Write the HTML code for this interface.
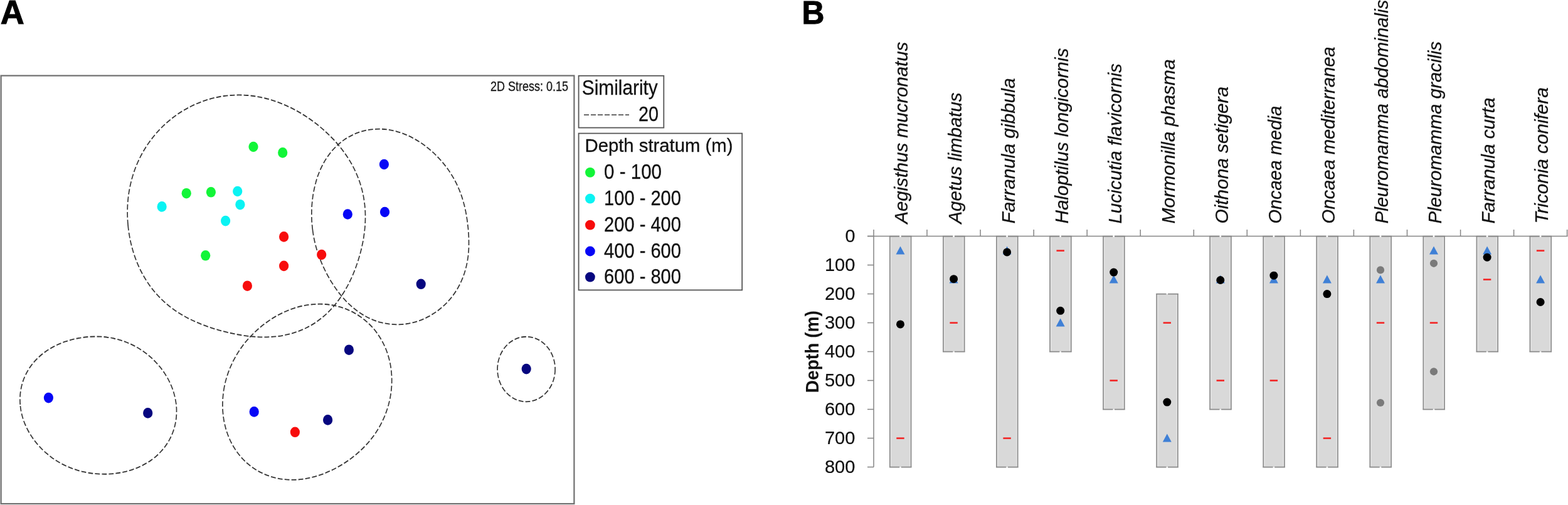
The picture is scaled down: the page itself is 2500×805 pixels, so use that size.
<!DOCTYPE html>
<html><head><meta charset="utf-8"><title>Figure</title>
<style>
html,body{margin:0;padding:0;background:#fff;}
body{width:2500px;height:805px;overflow:hidden;}
svg{display:block;}
</style></head><body>
<svg width="2500" height="805" viewBox="0 0 2500 805">
<rect x="0" y="0" width="2500" height="805" fill="#fff"/>
<text x="0.8" y="38.4" font-family="'Liberation Sans', sans-serif" font-weight="bold" font-size="53.5" fill="#000" stroke="#000" stroke-width="1" textLength="38" lengthAdjust="spacingAndGlyphs">A</text>
<text x="1278.6" y="38.0" font-family="'Liberation Sans', sans-serif" font-weight="bold" font-size="52.5" fill="#000" stroke="#000" stroke-width="1" textLength="36" lengthAdjust="spacingAndGlyphs">B</text>
<rect x="1.6" y="120.6" width="913.8" height="682.4" fill="none" stroke="#6e6e6e" stroke-width="2.2"/>
<text x="782" y="145.3" font-family="'Liberation Sans', sans-serif" font-size="22.3" fill="#1a1a1a" stroke="#1a1a1a" stroke-width="0.35" textLength="124" lengthAdjust="spacingAndGlyphs">2D Stress: 0.15</text>
<g transform="scale(1,1.120)">
<path d="M204.1,320.5 C203.6,315.6 203.2,310.6 203.2,305.6 C203.1,300.6 203.2,295.5 203.5,290.5 C203.9,285.5 204.5,280.4 205.3,275.3 C206.2,270.3 207.3,265.2 208.6,260.2 C210.0,255.2 211.6,250.2 213.4,245.3 C215.3,240.4 217.4,235.5 219.8,230.7 C222.2,225.9 224.9,221.2 227.8,216.6 C230.7,212.0 233.9,207.5 237.4,203.1 C240.8,198.7 244.5,194.5 248.4,190.4 C252.3,186.4 256.5,182.5 260.8,178.7 C265.2,175.0 269.8,171.5 274.6,168.2 C279.4,164.8 284.4,161.7 289.5,158.8 C294.7,155.9 300.0,153.3 305.5,150.9 C310.9,148.5 316.6,146.3 322.3,144.5 C328.0,142.6 333.9,141.0 339.8,139.7 C345.7,138.4 351.7,137.3 357.7,136.6 C363.8,135.9 369.8,135.4 375.9,135.3 C382.0,135.1 388.0,135.3 394.0,135.7 C400.1,136.1 406.1,136.8 412.0,137.8 C417.8,138.7 423.7,140.0 429.4,141.4 C435.1,142.9 440.8,144.6 446.3,146.5 C451.8,148.4 457.2,150.5 462.4,152.8 C467.7,155.0 472.8,157.5 477.8,160.1 C482.8,162.7 487.7,165.5 492.4,168.4 C497.1,171.3 501.7,174.3 506.2,177.5 C510.6,180.7 515.0,184.0 519.1,187.4 C523.3,190.8 527.3,194.4 531.2,198.0 C535.1,201.7 538.8,205.5 542.3,209.4 C545.9,213.3 549.2,217.3 552.4,221.5 C555.5,225.7 558.5,229.9 561.2,234.3 C563.9,238.7 566.4,243.2 568.6,247.8 C570.8,252.4 572.8,257.1 574.5,261.8 C576.2,266.6 577.6,271.4 578.8,276.3 C579.9,281.2 580.8,286.1 581.4,291.0 C582.0,295.9 582.4,300.9 582.5,305.8 C582.6,310.7 582.4,315.6 582.1,320.5 C581.7,325.4 581.1,330.2 580.3,335.0 C579.6,339.9 578.6,344.6 577.4,349.4 C576.3,354.1 575.0,358.8 573.5,363.4 C572.0,368.1 570.4,372.7 568.6,377.2 C566.8,381.8 564.9,386.3 562.8,390.7 C560.6,395.2 558.3,399.6 555.9,403.9 C553.4,408.2 550.7,412.5 547.8,416.6 C544.9,420.8 541.9,424.8 538.5,428.7 C535.2,432.6 531.7,436.5 527.9,440.0 C524.2,443.6 520.2,447.1 516.0,450.3 C511.8,453.4 507.4,456.4 502.8,459.2 C498.2,461.9 493.4,464.4 488.5,466.5 C483.6,468.7 478.5,470.7 473.3,472.3 C468.2,473.9 462.9,475.3 457.6,476.3 C452.3,477.4 446.9,478.2 441.6,478.8 C436.2,479.3 430.8,479.6 425.5,479.8 C420.2,479.9 414.9,479.7 409.6,479.5 C404.4,479.2 399.2,478.8 394.0,478.2 C388.9,477.6 383.8,476.9 378.8,476.1 C373.8,475.2 368.8,474.3 363.9,473.3 C358.9,472.3 354.1,471.1 349.2,469.9 C344.4,468.7 339.5,467.4 334.8,465.9 C330.0,464.5 325.2,463.0 320.5,461.3 C315.8,459.6 311.1,457.8 306.5,455.8 C301.9,453.9 297.3,451.8 292.9,449.5 C288.4,447.2 284.0,444.8 279.7,442.2 C275.4,439.5 271.2,436.7 267.2,433.7 C263.2,430.7 259.3,427.6 255.6,424.2 C251.9,420.9 248.3,417.4 245.0,413.7 C241.6,410.0 238.4,406.2 235.5,402.2 C232.5,398.3 229.7,394.2 227.2,390.0 C224.6,385.8 222.3,381.4 220.1,377.0 C218.0,372.6 216.0,368.1 214.3,363.5 C212.5,358.9 211.0,354.2 209.7,349.5 C208.3,344.8 207.2,340.0 206.3,335.2 C205.3,330.3 204.6,325.4 204.1,320.5Z" fill="none" stroke="#333" stroke-width="1.65" stroke-dasharray="7.8 3.2"/>
<path d="M498.5,327.6 C498.0,324.1 497.6,320.6 497.3,317.0 C497.0,313.4 496.9,309.8 496.8,306.2 C496.8,302.5 496.9,298.8 497.1,295.1 C497.3,291.4 497.7,287.6 498.2,283.8 C498.7,280.0 499.3,276.1 500.2,272.3 C501.0,268.4 502.0,264.5 503.2,260.7 C504.3,256.8 505.7,252.9 507.3,249.0 C508.9,245.2 510.7,241.3 512.8,237.5 C514.9,233.8 517.1,230.0 519.7,226.4 C522.3,222.9 525.1,219.3 528.1,216.0 C531.2,212.7 534.6,209.5 538.1,206.6 C541.7,203.7 545.5,200.9 549.5,198.5 C553.5,196.1 557.8,193.9 562.2,192.0 C566.5,190.1 571.1,188.5 575.8,187.3 C580.4,186.0 585.2,185.1 590.0,184.5 C594.8,183.9 599.7,183.6 604.5,183.6 C609.4,183.6 614.2,184.0 619.0,184.6 C623.7,185.2 628.4,186.1 633.0,187.3 C637.5,188.4 642.0,189.8 646.3,191.4 C650.6,192.9 654.8,194.8 658.8,196.7 C662.9,198.6 666.7,200.7 670.4,202.9 C674.1,205.0 677.6,207.4 681.0,209.8 C684.4,212.1 687.6,214.6 690.7,217.1 C693.7,219.6 696.6,222.2 699.4,224.9 C702.2,227.5 704.8,230.2 707.3,232.9 C709.7,235.6 712.1,238.3 714.3,241.1 C716.5,243.8 718.5,246.6 720.5,249.5 C722.4,252.3 724.2,255.1 725.9,258.0 C727.6,260.8 729.1,263.7 730.5,266.6 C732.0,269.5 733.3,272.4 734.5,275.3 C735.7,278.2 736.8,281.1 737.7,284.0 C738.7,286.9 739.6,289.8 740.4,292.7 C741.2,295.6 741.9,298.5 742.6,301.4 C743.2,304.3 743.8,307.2 744.3,310.1 C744.8,313.0 745.3,315.9 745.6,318.8 C746.0,321.7 746.4,324.6 746.7,327.6 C746.9,330.5 747.2,333.5 747.3,336.5 C747.4,339.5 747.5,342.6 747.5,345.6 C747.5,348.7 747.5,351.8 747.3,354.9 C747.1,358.1 746.8,361.2 746.4,364.4 C745.9,367.6 745.4,370.9 744.7,374.1 C744.0,377.3 743.1,380.6 742.1,383.8 C741.1,387.1 739.9,390.4 738.6,393.6 C737.2,396.8 735.7,400.1 733.9,403.2 C732.2,406.4 730.3,409.5 728.2,412.6 C726.1,415.6 723.8,418.7 721.3,421.6 C718.8,424.5 716.1,427.3 713.3,430.0 C710.5,432.7 707.4,435.3 704.2,437.8 C701.0,440.2 697.6,442.5 694.1,444.7 C690.6,446.8 686.9,448.8 683.1,450.6 C679.3,452.4 675.4,454.1 671.4,455.5 C667.3,456.8 663.2,458.1 658.9,459.0 C654.7,460.0 650.4,460.7 646.1,461.2 C641.7,461.7 637.3,461.9 633.0,461.9 C628.6,461.9 624.2,461.6 619.9,461.1 C615.6,460.6 611.3,459.8 607.1,458.9 C602.9,457.9 598.7,456.6 594.7,455.2 C590.7,453.7 586.8,452.1 583.0,450.2 C579.2,448.4 575.6,446.4 572.1,444.2 C568.6,442.0 565.2,439.7 562.1,437.3 C558.9,434.8 555.8,432.3 552.9,429.7 C550.0,427.0 547.3,424.3 544.7,421.5 C542.1,418.8 539.6,415.9 537.3,413.0 C534.9,410.2 532.7,407.3 530.6,404.3 C528.4,401.4 526.4,398.4 524.5,395.4 C522.6,392.4 520.8,389.4 519.1,386.3 C517.3,383.3 515.7,380.2 514.2,377.1 C512.6,373.9 511.2,370.8 509.8,367.6 C508.5,364.4 507.2,361.2 506.0,358.0 C504.9,354.7 503.8,351.4 502.9,348.1 C501.9,344.7 501.1,341.4 500.3,337.9 C499.6,334.5 499.0,331.1 498.5,327.6Z" fill="none" stroke="#333" stroke-width="1.65" stroke-dasharray="7.8 3.2"/>
<path d="M356.6,555.9 C357.3,552.3 358.0,548.8 358.9,545.3 C359.8,541.9 360.9,538.5 362.1,535.1 C363.3,531.8 364.6,528.5 366.0,525.3 C367.5,522.0 369.1,518.9 370.7,515.8 C372.4,512.7 374.2,509.7 376.1,506.8 C378.0,503.8 380.0,501.0 382.1,498.2 C384.2,495.4 386.5,492.7 388.7,490.0 C391.0,487.4 393.4,484.8 395.9,482.3 C398.4,479.8 400.9,477.4 403.6,475.1 C406.2,472.7 408.9,470.5 411.7,468.3 C414.5,466.1 417.4,463.9 420.4,461.9 C423.3,459.9 426.4,457.9 429.5,456.0 C432.6,454.1 435.8,452.3 439.1,450.6 C442.4,448.9 445.8,447.3 449.2,445.8 C452.7,444.3 456.2,442.9 459.8,441.6 C463.4,440.3 467.1,439.1 470.8,438.1 C474.6,437.1 478.4,436.1 482.3,435.4 C486.2,434.6 490.1,434.0 494.1,433.6 C498.1,433.2 502.1,432.9 506.2,432.8 C510.2,432.7 514.3,432.8 518.4,433.0 C522.4,433.3 526.5,433.8 530.5,434.4 C534.6,435.1 538.6,435.9 542.6,437.0 C546.5,438.0 550.4,439.3 554.2,440.7 C558.1,442.2 561.8,443.8 565.4,445.6 C569.0,447.4 572.5,449.4 575.9,451.6 C579.3,453.7 582.5,456.1 585.6,458.6 C588.6,461.0 591.6,463.7 594.3,466.4 C597.0,469.2 599.6,472.1 602.0,475.1 C604.3,478.1 606.5,481.2 608.5,484.4 C610.5,487.5 612.3,490.8 614.0,494.1 C615.6,497.4 617.0,500.8 618.2,504.2 C619.5,507.6 620.5,511.1 621.4,514.5 C622.3,518.0 623.0,521.5 623.5,524.9 C624.0,528.4 624.3,531.9 624.5,535.4 C624.7,538.8 624.7,542.3 624.6,545.7 C624.5,549.1 624.2,552.5 623.8,555.9 C623.3,559.3 622.8,562.6 622.1,565.9 C621.4,569.2 620.5,572.4 619.6,575.7 C618.6,578.9 617.5,582.0 616.3,585.1 C615.1,588.2 613.8,591.3 612.3,594.3 C610.8,597.3 609.3,600.3 607.6,603.1 C605.9,606.0 604.1,608.9 602.2,611.6 C600.3,614.4 598.3,617.1 596.2,619.7 C594.0,622.3 591.8,624.9 589.5,627.4 C587.2,629.9 584.8,632.3 582.3,634.6 C579.8,637.0 577.2,639.3 574.5,641.5 C571.9,643.7 569.1,645.9 566.3,647.9 C563.4,650.0 560.5,652.0 557.5,654.0 C554.5,655.9 551.4,657.8 548.3,659.6 C545.1,661.4 541.8,663.1 538.5,664.8 C535.1,666.5 531.7,668.0 528.2,669.5 C524.7,671.0 521.1,672.4 517.4,673.7 C513.7,675.0 509.9,676.2 506.0,677.3 C502.1,678.4 498.1,679.3 494.1,680.1 C490.1,680.9 485.9,681.5 481.7,682.0 C477.6,682.5 473.3,682.8 469.0,682.9 C464.7,682.9 460.4,682.9 456.1,682.5 C451.8,682.2 447.4,681.7 443.1,680.9 C438.9,680.1 434.6,679.1 430.4,677.9 C426.2,676.6 422.1,675.1 418.1,673.4 C414.1,671.7 410.2,669.8 406.5,667.6 C402.8,665.5 399.2,663.1 395.8,660.5 C392.4,658.0 389.1,655.2 386.1,652.3 C383.1,649.4 380.3,646.3 377.7,643.1 C375.1,639.9 372.8,636.5 370.6,633.1 C368.5,629.6 366.6,626.1 364.9,622.5 C363.2,618.9 361.8,615.2 360.5,611.5 C359.3,607.8 358.3,604.1 357.4,600.3 C356.6,596.6 356.0,592.8 355.6,589.0 C355.2,585.3 354.9,581.5 354.9,577.8 C354.8,574.1 355.0,570.4 355.3,566.7 C355.6,563.1 356.0,559.5 356.6,555.9Z" fill="none" stroke="#333" stroke-width="1.65" stroke-dasharray="7.8 3.2"/>
<path d="M32.2,575.9 C31.9,572.8 31.8,569.6 31.9,566.5 C32.0,563.4 32.3,560.2 32.8,557.1 C33.3,554.0 34.0,550.9 34.9,547.8 C35.8,544.8 36.9,541.7 38.2,538.8 C39.5,535.9 41.0,533.0 42.6,530.3 C44.3,527.5 46.2,524.8 48.2,522.2 C50.2,519.7 52.4,517.2 54.6,514.9 C56.9,512.5 59.4,510.3 61.9,508.2 C64.4,506.1 67.1,504.1 69.8,502.3 C72.6,500.4 75.4,498.7 78.3,497.1 C81.1,495.5 84.1,494.0 87.0,492.7 C90.0,491.3 93.0,490.1 96.1,489.0 C99.1,487.8 102.2,486.8 105.3,485.9 C108.4,484.9 111.5,484.1 114.6,483.4 C117.7,482.7 120.8,482.0 124.0,481.5 C127.1,480.9 130.3,480.5 133.4,480.1 C136.5,479.8 139.7,479.5 142.8,479.3 C146.0,479.1 149.2,479.0 152.3,479.0 C155.5,479.0 158.6,479.1 161.8,479.2 C164.9,479.4 168.1,479.7 171.2,480.1 C174.4,480.4 177.5,480.9 180.7,481.5 C183.8,482.1 186.9,482.8 190.0,483.6 C193.1,484.3 196.1,485.2 199.1,486.2 C202.2,487.2 205.2,488.4 208.1,489.6 C211.1,490.8 214.0,492.1 216.9,493.6 C219.8,495.0 222.6,496.5 225.4,498.2 C228.2,499.8 230.9,501.6 233.5,503.4 C236.2,505.2 238.8,507.2 241.3,509.2 C243.8,511.3 246.3,513.4 248.6,515.7 C251.0,517.9 253.3,520.3 255.5,522.7 C257.7,525.2 259.8,527.7 261.8,530.4 C263.7,533.0 265.6,535.7 267.4,538.5 C269.1,541.3 270.7,544.2 272.2,547.2 C273.7,550.2 275.0,553.3 276.2,556.4 C277.3,559.5 278.3,562.8 279.1,566.0 C279.9,569.3 280.5,572.6 281.0,575.9 C281.4,579.2 281.6,582.6 281.5,586.0 C281.5,589.4 281.3,592.8 280.8,596.1 C280.3,599.5 279.7,602.9 278.7,606.2 C277.8,609.5 276.7,612.7 275.3,615.9 C273.9,619.0 272.3,622.2 270.6,625.1 C268.8,628.1 266.8,631.0 264.6,633.8 C262.4,636.6 260.1,639.2 257.6,641.7 C255.0,644.2 252.4,646.6 249.6,648.8 C246.8,651.0 243.9,653.1 240.9,655.0 C237.9,656.9 234.7,658.6 231.6,660.2 C228.4,661.9 225.2,663.3 221.9,664.6 C218.6,665.9 215.3,667.1 211.9,668.1 C208.6,669.2 205.2,670.1 201.9,670.8 C198.5,671.6 195.2,672.2 191.8,672.8 C188.4,673.3 185.1,673.7 181.8,674.1 C178.4,674.4 175.1,674.6 171.8,674.7 C168.5,674.8 165.3,674.8 162.0,674.7 C158.7,674.7 155.5,674.5 152.3,674.2 C149.1,674.0 145.9,673.6 142.8,673.2 C139.6,672.8 136.5,672.2 133.4,671.6 C130.3,671.0 127.3,670.3 124.2,669.5 C121.2,668.7 118.2,667.8 115.3,666.8 C112.3,665.8 109.4,664.8 106.5,663.6 C103.6,662.5 100.8,661.2 98.0,659.9 C95.2,658.5 92.5,657.1 89.8,655.6 C87.2,654.1 84.5,652.5 82.0,650.8 C79.4,649.1 76.9,647.3 74.4,645.4 C72.0,643.6 69.6,641.6 67.3,639.6 C65.0,637.6 62.8,635.4 60.6,633.2 C58.5,631.0 56.4,628.7 54.4,626.4 C52.5,624.0 50.6,621.5 48.8,619.0 C47.0,616.5 45.3,613.9 43.8,611.2 C42.3,608.5 40.8,605.7 39.5,602.9 C38.2,600.1 37.1,597.2 36.1,594.2 C35.1,591.3 34.3,588.2 33.6,585.2 C33.0,582.1 32.5,579.0 32.2,575.9Z" fill="none" stroke="#333" stroke-width="1.65" stroke-dasharray="7.8 3.2"/>
<ellipse cx="839.1" cy="525.45" rx="46" ry="46.25" fill="none" stroke="#333" stroke-width="1.65" stroke-dasharray="7.8 3.2"/>
</g>
<ellipse cx="404.0" cy="234.0" rx="7.6" ry="8.3" fill="#12f538"/>
<ellipse cx="450.7" cy="243.4" rx="7.6" ry="8.3" fill="#12f538"/>
<ellipse cx="297.2" cy="308.2" rx="7.6" ry="8.3" fill="#12f538"/>
<ellipse cx="336.4" cy="306.3" rx="7.6" ry="8.3" fill="#12f538"/>
<ellipse cx="327.7" cy="407.3" rx="7.6" ry="8.3" fill="#12f538"/>
<ellipse cx="378.7" cy="305.0" rx="7.6" ry="8.3" fill="#0af3f3"/>
<ellipse cx="382.9" cy="326.2" rx="7.6" ry="8.3" fill="#0af3f3"/>
<ellipse cx="258.1" cy="329.4" rx="7.6" ry="8.3" fill="#0af3f3"/>
<ellipse cx="359.6" cy="352.1" rx="7.6" ry="8.3" fill="#0af3f3"/>
<ellipse cx="452.6" cy="377.4" rx="7.6" ry="8.3" fill="#f70c0c"/>
<ellipse cx="512.7" cy="406.0" rx="7.6" ry="8.3" fill="#f70c0c"/>
<ellipse cx="452.6" cy="423.9" rx="7.6" ry="8.3" fill="#f70c0c"/>
<ellipse cx="394.4" cy="455.7" rx="7.6" ry="8.3" fill="#f70c0c"/>
<ellipse cx="470.4" cy="688.8" rx="7.6" ry="8.3" fill="#f70c0c"/>
<ellipse cx="554.3" cy="341.5" rx="7.6" ry="8.3" fill="#0606f6"/>
<ellipse cx="612.4" cy="262.0" rx="7.6" ry="8.3" fill="#0606f6"/>
<ellipse cx="613.5" cy="338.0" rx="7.6" ry="8.3" fill="#0606f6"/>
<ellipse cx="77.4" cy="634.1" rx="7.6" ry="8.3" fill="#0606f6"/>
<ellipse cx="405.2" cy="656.4" rx="7.6" ry="8.3" fill="#0606f6"/>
<ellipse cx="671.2" cy="452.8" rx="7.6" ry="8.3" fill="#06067f"/>
<ellipse cx="556.4" cy="557.7" rx="7.6" ry="8.3" fill="#06067f"/>
<ellipse cx="839.2" cy="588.1" rx="7.6" ry="8.3" fill="#06067f"/>
<ellipse cx="235.7" cy="658.4" rx="7.6" ry="8.3" fill="#06067f"/>
<ellipse cx="522.6" cy="669.4" rx="7.6" ry="8.3" fill="#06067f"/>
<rect x="922.6" y="120.8" width="135.7" height="82.8" fill="#fff" stroke="#555" stroke-width="1.8"/>
<text x="927.8" y="150.8" font-family="'Liberation Sans', sans-serif" font-size="32.4" fill="#111" stroke="#111" stroke-width="0.3" textLength="121" lengthAdjust="spacingAndGlyphs">Similarity</text>
<line x1="931" y1="183.1" x2="1003" y2="183.1" stroke="#555" stroke-width="1.6" stroke-dasharray="8 3"/>
<text x="1018" y="192.8" font-family="'Liberation Sans', sans-serif" font-size="32.4" fill="#111" stroke="#111" stroke-width="0.3" textLength="32" lengthAdjust="spacingAndGlyphs">20</text>
<rect x="922.6" y="212.6" width="260.6" height="249.8" fill="#fff" stroke="#555" stroke-width="1.8"/>
<text x="932.5" y="241.7" font-family="'Liberation Sans', sans-serif" font-size="30.3" fill="#111" stroke="#111" stroke-width="0.3" textLength="236" lengthAdjust="spacingAndGlyphs">Depth stratum (m)</text>
<circle cx="940.9" cy="274.8" r="7.9" fill="#12f538"/>
<text x="963" y="285.0" font-family="'Liberation Sans', sans-serif" font-size="32.4" fill="#111" stroke="#111" stroke-width="0.3" textLength="92" lengthAdjust="spacingAndGlyphs">0 - 100</text>
<circle cx="940.9" cy="316.6" r="7.9" fill="#0af3f3"/>
<text x="963" y="326.8" font-family="'Liberation Sans', sans-serif" font-size="32.4" fill="#111" stroke="#111" stroke-width="0.3" textLength="123" lengthAdjust="spacingAndGlyphs">100 - 200</text>
<circle cx="940.9" cy="358.6" r="7.9" fill="#f70c0c"/>
<text x="963" y="368.8" font-family="'Liberation Sans', sans-serif" font-size="32.4" fill="#111" stroke="#111" stroke-width="0.3" textLength="123" lengthAdjust="spacingAndGlyphs">200 - 400</text>
<circle cx="940.9" cy="400.5" r="7.9" fill="#0606f6"/>
<text x="963" y="410.7" font-family="'Liberation Sans', sans-serif" font-size="32.4" fill="#111" stroke="#111" stroke-width="0.3" textLength="123" lengthAdjust="spacingAndGlyphs">400 - 600</text>
<circle cx="940.9" cy="441.6" r="7.9" fill="#06067f"/>
<text x="963" y="451.8" font-family="'Liberation Sans', sans-serif" font-size="32.4" fill="#111" stroke="#111" stroke-width="0.3" textLength="123" lengthAdjust="spacingAndGlyphs">600 - 800</text>
<rect x="1418.8" y="376.6" width="33.8" height="368.0" fill="#d9d9d9"/>
<path d="M1420.6,378.1V743.1M1450.8,378.1V743.1" stroke="#e9e9e9" stroke-width="1" fill="none"/>
<path d="M1418.8,376.6V744.6M1452.6,376.6V744.6" stroke="#8e8e8e" stroke-width="1.7" fill="none"/>
<path d="M1417.9,376.6H1434.2M1436.8,376.6H1453.5" stroke="#8a8a8a" stroke-width="1.6" fill="none"/>
<path d="M1417.9,744.6H1434.2M1436.8,744.6H1453.5" stroke="#8a8a8a" stroke-width="1.6" fill="none"/>
<rect x="1503.9" y="376.6" width="33.8" height="184.0" fill="#d9d9d9"/>
<path d="M1505.7,378.1V559.1M1535.9,378.1V559.1" stroke="#e9e9e9" stroke-width="1" fill="none"/>
<path d="M1503.9,376.6V560.6M1537.7,376.6V560.6" stroke="#8e8e8e" stroke-width="1.7" fill="none"/>
<path d="M1503.0,376.6H1519.3M1521.9,376.6H1538.6" stroke="#8a8a8a" stroke-width="1.6" fill="none"/>
<path d="M1503.0,560.6H1519.3M1521.9,560.6H1538.6" stroke="#8a8a8a" stroke-width="1.6" fill="none"/>
<rect x="1588.9" y="376.6" width="33.8" height="368.0" fill="#d9d9d9"/>
<path d="M1590.7,378.1V743.1M1620.9,378.1V743.1" stroke="#e9e9e9" stroke-width="1" fill="none"/>
<path d="M1588.9,376.6V744.6M1622.7,376.6V744.6" stroke="#8e8e8e" stroke-width="1.7" fill="none"/>
<path d="M1588.0,376.6H1604.3M1606.9,376.6H1623.6" stroke="#8a8a8a" stroke-width="1.6" fill="none"/>
<path d="M1588.0,744.6H1604.3M1606.9,744.6H1623.6" stroke="#8a8a8a" stroke-width="1.6" fill="none"/>
<rect x="1674.0" y="376.6" width="33.8" height="184.0" fill="#d9d9d9"/>
<path d="M1675.8,378.1V559.1M1706.0,378.1V559.1" stroke="#e9e9e9" stroke-width="1" fill="none"/>
<path d="M1674.0,376.6V560.6M1707.8,376.6V560.6" stroke="#8e8e8e" stroke-width="1.7" fill="none"/>
<path d="M1673.1,376.6H1689.4M1692.0,376.6H1708.7" stroke="#8a8a8a" stroke-width="1.6" fill="none"/>
<path d="M1673.1,560.6H1689.4M1692.0,560.6H1708.7" stroke="#8a8a8a" stroke-width="1.6" fill="none"/>
<rect x="1759.0" y="376.6" width="33.8" height="276.0" fill="#d9d9d9"/>
<path d="M1760.8,378.1V651.1M1791.0,378.1V651.1" stroke="#e9e9e9" stroke-width="1" fill="none"/>
<path d="M1759.0,376.6V652.6M1792.8,376.6V652.6" stroke="#8e8e8e" stroke-width="1.7" fill="none"/>
<path d="M1758.1,376.6H1774.4M1777.0,376.6H1793.7" stroke="#8a8a8a" stroke-width="1.6" fill="none"/>
<path d="M1758.1,652.6H1774.4M1777.0,652.6H1793.7" stroke="#8a8a8a" stroke-width="1.6" fill="none"/>
<rect x="1844.1" y="468.6" width="33.8" height="276.0" fill="#d9d9d9"/>
<path d="M1845.9,470.1V743.1M1876.1,470.1V743.1" stroke="#e9e9e9" stroke-width="1" fill="none"/>
<path d="M1844.1,468.6V744.6M1877.9,468.6V744.6" stroke="#8e8e8e" stroke-width="1.7" fill="none"/>
<path d="M1843.2,468.6H1859.5M1862.1,468.6H1878.8" stroke="#8a8a8a" stroke-width="1.6" fill="none"/>
<path d="M1843.2,744.6H1859.5M1862.1,744.6H1878.8" stroke="#8a8a8a" stroke-width="1.6" fill="none"/>
<rect x="1929.1" y="376.6" width="33.8" height="276.0" fill="#d9d9d9"/>
<path d="M1930.9,378.1V651.1M1961.1,378.1V651.1" stroke="#e9e9e9" stroke-width="1" fill="none"/>
<path d="M1929.1,376.6V652.6M1962.9,376.6V652.6" stroke="#8e8e8e" stroke-width="1.7" fill="none"/>
<path d="M1928.2,376.6H1944.5M1947.1,376.6H1963.8" stroke="#8a8a8a" stroke-width="1.6" fill="none"/>
<path d="M1928.2,652.6H1944.5M1947.1,652.6H1963.8" stroke="#8a8a8a" stroke-width="1.6" fill="none"/>
<rect x="2014.2" y="376.6" width="33.8" height="368.0" fill="#d9d9d9"/>
<path d="M2016.0,378.1V743.1M2046.2,378.1V743.1" stroke="#e9e9e9" stroke-width="1" fill="none"/>
<path d="M2014.2,376.6V744.6M2048.0,376.6V744.6" stroke="#8e8e8e" stroke-width="1.7" fill="none"/>
<path d="M2013.3,376.6H2029.6M2032.2,376.6H2048.9" stroke="#8a8a8a" stroke-width="1.6" fill="none"/>
<path d="M2013.3,744.6H2029.6M2032.2,744.6H2048.9" stroke="#8a8a8a" stroke-width="1.6" fill="none"/>
<rect x="2099.2" y="376.6" width="33.8" height="368.0" fill="#d9d9d9"/>
<path d="M2101.0,378.1V743.1M2131.2,378.1V743.1" stroke="#e9e9e9" stroke-width="1" fill="none"/>
<path d="M2099.2,376.6V744.6M2133.0,376.6V744.6" stroke="#8e8e8e" stroke-width="1.7" fill="none"/>
<path d="M2098.3,376.6H2114.6M2117.2,376.6H2133.9" stroke="#8a8a8a" stroke-width="1.6" fill="none"/>
<path d="M2098.3,744.6H2114.6M2117.2,744.6H2133.9" stroke="#8a8a8a" stroke-width="1.6" fill="none"/>
<rect x="2184.3" y="376.6" width="33.8" height="368.0" fill="#d9d9d9"/>
<path d="M2186.1,378.1V743.1M2216.3,378.1V743.1" stroke="#e9e9e9" stroke-width="1" fill="none"/>
<path d="M2184.3,376.6V744.6M2218.1,376.6V744.6" stroke="#8e8e8e" stroke-width="1.7" fill="none"/>
<path d="M2183.4,376.6H2199.7M2202.3,376.6H2219.0" stroke="#8a8a8a" stroke-width="1.6" fill="none"/>
<path d="M2183.4,744.6H2199.7M2202.3,744.6H2219.0" stroke="#8a8a8a" stroke-width="1.6" fill="none"/>
<rect x="2269.3" y="376.6" width="33.8" height="276.0" fill="#d9d9d9"/>
<path d="M2271.1,378.1V651.1M2301.3,378.1V651.1" stroke="#e9e9e9" stroke-width="1" fill="none"/>
<path d="M2269.3,376.6V652.6M2303.1,376.6V652.6" stroke="#8e8e8e" stroke-width="1.7" fill="none"/>
<path d="M2268.4,376.6H2284.7M2287.3,376.6H2304.0" stroke="#8a8a8a" stroke-width="1.6" fill="none"/>
<path d="M2268.4,652.6H2284.7M2287.3,652.6H2304.0" stroke="#8a8a8a" stroke-width="1.6" fill="none"/>
<rect x="2354.4" y="376.6" width="33.8" height="184.0" fill="#d9d9d9"/>
<path d="M2356.2,378.1V559.1M2386.4,378.1V559.1" stroke="#e9e9e9" stroke-width="1" fill="none"/>
<path d="M2354.4,376.6V560.6M2388.2,376.6V560.6" stroke="#8e8e8e" stroke-width="1.7" fill="none"/>
<path d="M2353.5,376.6H2369.8M2372.4,376.6H2389.1" stroke="#8a8a8a" stroke-width="1.6" fill="none"/>
<path d="M2353.5,560.6H2369.8M2372.4,560.6H2389.1" stroke="#8a8a8a" stroke-width="1.6" fill="none"/>
<rect x="2439.4" y="376.6" width="33.8" height="184.0" fill="#d9d9d9"/>
<path d="M2441.2,378.1V559.1M2471.4,378.1V559.1" stroke="#e9e9e9" stroke-width="1" fill="none"/>
<path d="M2439.4,376.6V560.6M2473.2,376.6V560.6" stroke="#8e8e8e" stroke-width="1.7" fill="none"/>
<path d="M2438.5,376.6H2454.8M2457.4,376.6H2474.1" stroke="#8a8a8a" stroke-width="1.6" fill="none"/>
<path d="M2438.5,560.6H2454.8M2457.4,560.6H2474.1" stroke="#8a8a8a" stroke-width="1.6" fill="none"/>
<path d="M1383,376.6H2499.5M1393,376.6V744.6" stroke="#858585" stroke-width="1.5" fill="none"/>
<path d="M1383,376.6H1393M1383,422.6H1393M1383,468.6H1393M1383,514.6H1393M1383,560.6H1393M1383,606.6H1393M1383,652.6H1393M1383,698.6H1393M1383,744.6H1393M1393.0,366V376.6M1478.0,366V376.6M1563.1,366V376.6M1648.2,366V376.6M1733.2,366V376.6M1818.2,366V376.6M1903.3,366V376.6M1988.3,366V376.6M2073.4,366V376.6M2158.4,366V376.6M2243.5,366V376.6M2328.6,366V376.6M2413.6,366V376.6M2498.6,366V376.6" stroke="#858585" stroke-width="1.5" fill="none"/>
<rect x="1434.2" y="375.3" width="2.6" height="2.6" fill="#fff"/>
<rect x="1519.3" y="375.3" width="2.6" height="2.6" fill="#fff"/>
<rect x="1604.3" y="375.3" width="2.6" height="2.6" fill="#fff"/>
<rect x="1689.4" y="375.3" width="2.6" height="2.6" fill="#fff"/>
<rect x="1774.4" y="375.3" width="2.6" height="2.6" fill="#fff"/>
<rect x="1944.5" y="375.3" width="2.6" height="2.6" fill="#fff"/>
<rect x="2029.6" y="375.3" width="2.6" height="2.6" fill="#fff"/>
<rect x="2114.6" y="375.3" width="2.6" height="2.6" fill="#fff"/>
<rect x="2199.7" y="375.3" width="2.6" height="2.6" fill="#fff"/>
<rect x="2284.7" y="375.3" width="2.6" height="2.6" fill="#fff"/>
<rect x="2369.8" y="375.3" width="2.6" height="2.6" fill="#fff"/>
<rect x="2454.8" y="375.3" width="2.6" height="2.6" fill="#fff"/>
<text x="1363.4" y="385.8" text-anchor="end" font-family="'Liberation Sans', sans-serif" font-size="29.5" fill="#111" stroke="#111" stroke-width="0.2" textLength="16.0" lengthAdjust="spacingAndGlyphs">0</text>
<text x="1363.4" y="431.8" text-anchor="end" font-family="'Liberation Sans', sans-serif" font-size="29.5" fill="#111" stroke="#111" stroke-width="0.2" textLength="48.5" lengthAdjust="spacingAndGlyphs">100</text>
<text x="1363.4" y="477.8" text-anchor="end" font-family="'Liberation Sans', sans-serif" font-size="29.5" fill="#111" stroke="#111" stroke-width="0.2" textLength="48.5" lengthAdjust="spacingAndGlyphs">200</text>
<text x="1363.4" y="523.8" text-anchor="end" font-family="'Liberation Sans', sans-serif" font-size="29.5" fill="#111" stroke="#111" stroke-width="0.2" textLength="48.5" lengthAdjust="spacingAndGlyphs">300</text>
<text x="1363.4" y="569.8" text-anchor="end" font-family="'Liberation Sans', sans-serif" font-size="29.5" fill="#111" stroke="#111" stroke-width="0.2" textLength="48.5" lengthAdjust="spacingAndGlyphs">400</text>
<text x="1363.4" y="615.8" text-anchor="end" font-family="'Liberation Sans', sans-serif" font-size="29.5" fill="#111" stroke="#111" stroke-width="0.2" textLength="48.5" lengthAdjust="spacingAndGlyphs">500</text>
<text x="1363.4" y="661.8" text-anchor="end" font-family="'Liberation Sans', sans-serif" font-size="29.5" fill="#111" stroke="#111" stroke-width="0.2" textLength="48.5" lengthAdjust="spacingAndGlyphs">600</text>
<text x="1363.4" y="707.8" text-anchor="end" font-family="'Liberation Sans', sans-serif" font-size="29.5" fill="#111" stroke="#111" stroke-width="0.2" textLength="48.5" lengthAdjust="spacingAndGlyphs">700</text>
<text x="1363.4" y="753.8" text-anchor="end" font-family="'Liberation Sans', sans-serif" font-size="29.5" fill="#111" stroke="#111" stroke-width="0.2" textLength="48.5" lengthAdjust="spacingAndGlyphs">800</text>
<text transform="translate(1305,626.2) rotate(-90)" font-family="'Liberation Sans', sans-serif" font-weight="bold" font-size="28.8" fill="#111" textLength="131" lengthAdjust="spacingAndGlyphs">Depth (m)</text>
<text transform="translate(1447.4,356.5) rotate(-90)" font-family="'Liberation Sans', sans-serif" font-style="italic" font-size="28.8" fill="#111" stroke="#111" stroke-width="0.25" textLength="289.6" lengthAdjust="spacingAndGlyphs">Aegisthus mucronatus</text>
<text transform="translate(1532.5,356.5) rotate(-90)" font-family="'Liberation Sans', sans-serif" font-style="italic" font-size="28.8" fill="#111" stroke="#111" stroke-width="0.25" textLength="208.9" lengthAdjust="spacingAndGlyphs">Agetus limbatus</text>
<text transform="translate(1617.5,356.5) rotate(-90)" font-family="'Liberation Sans', sans-serif" font-style="italic" font-size="28.8" fill="#111" stroke="#111" stroke-width="0.25" textLength="232.0" lengthAdjust="spacingAndGlyphs">Farranula gibbula</text>
<text transform="translate(1702.6,356.5) rotate(-90)" font-family="'Liberation Sans', sans-serif" font-style="italic" font-size="28.8" fill="#111" stroke="#111" stroke-width="0.25" textLength="279.7" lengthAdjust="spacingAndGlyphs">Haloptilus longicornis</text>
<text transform="translate(1787.6,356.5) rotate(-90)" font-family="'Liberation Sans', sans-serif" font-style="italic" font-size="28.8" fill="#111" stroke="#111" stroke-width="0.25" textLength="255.2" lengthAdjust="spacingAndGlyphs">Lucicutia flavicornis</text>
<text transform="translate(1872.7,356.5) rotate(-90)" font-family="'Liberation Sans', sans-serif" font-style="italic" font-size="28.8" fill="#111" stroke="#111" stroke-width="0.25" textLength="262.1" lengthAdjust="spacingAndGlyphs">Mormonilla phasma</text>
<text transform="translate(1957.7,356.5) rotate(-90)" font-family="'Liberation Sans', sans-serif" font-style="italic" font-size="28.8" fill="#111" stroke="#111" stroke-width="0.25" textLength="218.6" lengthAdjust="spacingAndGlyphs">Oithona setigera</text>
<text transform="translate(2042.8,356.5) rotate(-90)" font-family="'Liberation Sans', sans-serif" font-style="italic" font-size="28.8" fill="#111" stroke="#111" stroke-width="0.25" textLength="187.8" lengthAdjust="spacingAndGlyphs">Oncaea media</text>
<text transform="translate(2127.8,356.5) rotate(-90)" font-family="'Liberation Sans', sans-serif" font-style="italic" font-size="28.8" fill="#111" stroke="#111" stroke-width="0.25" textLength="282.1" lengthAdjust="spacingAndGlyphs">Oncaea mediterranea</text>
<text transform="translate(2212.9,356.5) rotate(-90)" font-family="'Liberation Sans', sans-serif" font-style="italic" font-size="28.8" fill="#111" stroke="#111" stroke-width="0.25" textLength="356.7" lengthAdjust="spacingAndGlyphs">Pleuromamma abdominalis</text>
<text transform="translate(2297.9,356.5) rotate(-90)" font-family="'Liberation Sans', sans-serif" font-style="italic" font-size="28.8" fill="#111" stroke="#111" stroke-width="0.25" textLength="290.5" lengthAdjust="spacingAndGlyphs">Pleuromamma gracilis</text>
<text transform="translate(2383.0,356.5) rotate(-90)" font-family="'Liberation Sans', sans-serif" font-style="italic" font-size="28.8" fill="#111" stroke="#111" stroke-width="0.25" textLength="201.1" lengthAdjust="spacingAndGlyphs">Farranula curta</text>
<text transform="translate(2468.0,356.5) rotate(-90)" font-family="'Liberation Sans', sans-serif" font-style="italic" font-size="28.8" fill="#111" stroke="#111" stroke-width="0.25" textLength="217.2" lengthAdjust="spacingAndGlyphs">Triconia conifera</text>
<rect x="1429.3" y="697.3" width="12.4" height="2.6" fill="#f22424"/>
<path d="M1435.5,392.4L1442.5,405.6L1428.5,405.6Z" fill="#3f80d6"/>
<circle cx="1435.5" cy="516.9" r="6.5" fill="#000"/>
<rect x="1514.4" y="513.3" width="12.4" height="2.6" fill="#f22424"/>
<path d="M1520.6,438.4L1527.6,451.6L1513.6,451.6Z" fill="#3f80d6"/>
<circle cx="1520.6" cy="444.7" r="6.5" fill="#000"/>
<rect x="1599.4" y="697.3" width="12.4" height="2.6" fill="#f22424"/>
<path d="M1605.6,392.4L1612.6,405.6L1598.6,405.6Z" fill="#3f80d6"/>
<circle cx="1605.6" cy="401.9" r="6.5" fill="#000"/>
<rect x="1684.5" y="398.3" width="12.4" height="2.6" fill="#f22424"/>
<path d="M1690.7,507.4L1697.7,520.6L1683.7,520.6Z" fill="#3f80d6"/>
<circle cx="1690.7" cy="495.3" r="6.5" fill="#000"/>
<rect x="1769.5" y="605.3" width="12.4" height="2.6" fill="#f22424"/>
<path d="M1775.7,438.4L1782.7,451.6L1768.7,451.6Z" fill="#3f80d6"/>
<circle cx="1775.7" cy="434.1" r="6.5" fill="#000"/>
<rect x="1854.6" y="513.3" width="12.4" height="2.6" fill="#f22424"/>
<path d="M1860.8,691.4L1867.8,704.6L1853.8,704.6Z" fill="#3f80d6"/>
<circle cx="1860.8" cy="641.1" r="6.5" fill="#000"/>
<rect x="1939.6" y="605.3" width="12.4" height="2.6" fill="#f22424"/>
<path d="M1945.8,438.4L1952.8,451.6L1938.8,451.6Z" fill="#3f80d6"/>
<circle cx="1945.8" cy="446.5" r="6.5" fill="#000"/>
<rect x="2024.7" y="605.3" width="12.4" height="2.6" fill="#f22424"/>
<path d="M2030.9,438.4L2037.9,451.6L2023.9,451.6Z" fill="#3f80d6"/>
<circle cx="2030.9" cy="439.2" r="6.5" fill="#000"/>
<rect x="2109.7" y="697.3" width="12.4" height="2.6" fill="#f22424"/>
<path d="M2115.9,438.4L2122.9,451.6L2108.9,451.6Z" fill="#3f80d6"/>
<circle cx="2115.9" cy="468.6" r="6.5" fill="#000"/>
<rect x="2194.8" y="513.3" width="12.4" height="2.6" fill="#f22424"/>
<circle cx="2201.0" cy="430.4" r="6.1" fill="#7a7a7a"/>
<circle cx="2201.0" cy="642.0" r="6.1" fill="#7a7a7a"/>
<path d="M2201.0,438.4L2208.0,451.6L2194.0,451.6Z" fill="#3f80d6"/>
<rect x="2279.8" y="513.3" width="12.4" height="2.6" fill="#f22424"/>
<circle cx="2286.0" cy="419.8" r="6.1" fill="#7a7a7a"/>
<circle cx="2286.0" cy="592.3" r="6.1" fill="#7a7a7a"/>
<path d="M2286.0,392.4L2293.0,405.6L2279.0,405.6Z" fill="#3f80d6"/>
<rect x="2364.9" y="444.3" width="12.4" height="2.6" fill="#f22424"/>
<path d="M2371.1,392.4L2378.1,405.6L2364.1,405.6Z" fill="#3f80d6"/>
<circle cx="2371.1" cy="410.2" r="6.5" fill="#000"/>
<rect x="2449.9" y="398.3" width="12.4" height="2.6" fill="#f22424"/>
<path d="M2456.1,438.4L2463.1,451.6L2449.1,451.6Z" fill="#3f80d6"/>
<circle cx="2456.1" cy="481.5" r="6.5" fill="#000"/>
</svg>
</body></html>
